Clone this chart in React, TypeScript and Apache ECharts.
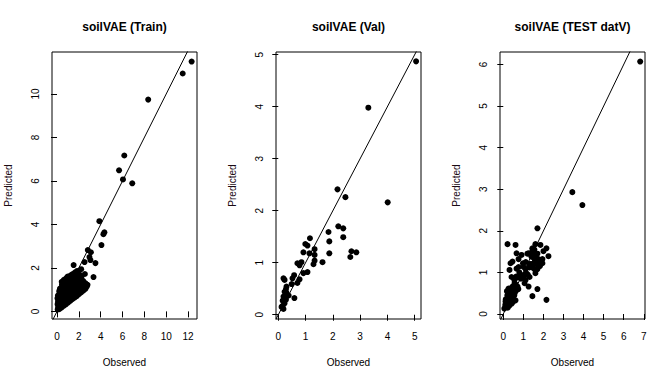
import React, { useEffect, useRef } from "react";
import * as echarts from "echarts";

// ---- Data ----
const trainPoints: number[][] = [
  [12.33, 11.49], [11.51, 10.94], [8.35, 9.74], [6.16, 7.17], [5.68, 6.49], [6.04, 6.07], [6.89, 5.89],
  [3.88, 4.15], [4.34, 3.64], [4.25, 3.55], [4.07, 3.05], [2.82, 2.82], [3.1, 2.72], [2.97, 2.5],
  [3.06, 2.36], [2.52, 2.27], [3.52, 2.22], [1.52, 2.13], [2.21, 1.94], [2.55, 1.72], [3.34, 1.58], [2.79, 1.22],
  [0.06, 0.09], [0.1, 0.2], [0.05, 0.33], [0.09, 0.46], [0.04, 0.6], [0.08, 0.73],
  [0.2, 0.1], [0.24, 0.24], [0.18, 0.38], [0.22, 0.52], [0.19, 0.66], [0.23, 0.8], [0.2, 0.93], [0.27, 1.05],
  [0.4, 0.17], [0.43, 0.32], [0.38, 0.47], [0.42, 0.62], [0.39, 0.77], [0.44, 0.92], [0.41, 1.07], [0.45, 1.22], [0.43, 1.36],
  [0.6, 0.25], [0.63, 0.4], [0.58, 0.55], [0.62, 0.7], [0.59, 0.85], [0.64, 1.0], [0.61, 1.15], [0.57, 1.3], [0.63, 1.45],
  [0.8, 0.32], [0.78, 0.47], [0.83, 0.62], [0.79, 0.78], [0.82, 0.93], [0.77, 1.08], [0.84, 1.23], [0.8, 1.38], [0.86, 1.53],
  [1.0, 0.4], [1.03, 0.56], [0.98, 0.71], [1.02, 0.86], [0.99, 1.01], [1.04, 1.16], [1.0, 1.31], [1.05, 1.46], [0.97, 1.6],
  [1.2, 0.48], [1.18, 0.64], [1.23, 0.79], [1.19, 0.94], [1.22, 1.09], [1.17, 1.24], [1.24, 1.39], [1.2, 1.54], [1.25, 1.66],
  [1.4, 0.56], [1.43, 0.7], [1.38, 0.86], [1.42, 1.0], [1.39, 1.15], [1.44, 1.3], [1.41, 1.45], [1.37, 1.6], [1.43, 1.72],
  [1.6, 0.63], [1.58, 0.79], [1.63, 0.94], [1.59, 1.08], [1.62, 1.23], [1.57, 1.38], [1.64, 1.53], [1.6, 1.68], [1.66, 1.8],
  [1.8, 0.7], [1.83, 0.86], [1.78, 1.0], [1.82, 1.15], [1.79, 1.3], [1.84, 1.45], [1.81, 1.6], [1.77, 1.75], [1.85, 1.86],
  [2.0, 0.79], [1.98, 0.95], [2.03, 1.1], [1.99, 1.25], [2.02, 1.4], [1.97, 1.55], [2.04, 1.7],
  [2.2, 0.87], [2.23, 1.02], [2.18, 1.17], [2.22, 1.32], [2.19, 1.47], [2.24, 1.6],
  [2.4, 0.95], [2.38, 1.1], [2.43, 1.25], [2.39, 1.4],
  [2.6, 1.04], [2.63, 1.18], [2.58, 1.3], [2.72, 1.14], [2.68, 1.24],
];

const valPoints: number[][] = [
  [5.05, 4.87], [3.3, 3.98], [2.17, 2.41], [2.46, 2.26], [4.01, 2.16], [2.2, 1.7], [2.38, 1.66], [1.84, 1.59],
  [2.38, 1.49], [1.87, 1.41], [1.16, 1.47], [0.99, 1.36], [1.07, 1.33], [1.33, 1.26], [0.92, 1.2], [1.14, 1.18],
  [1.87, 1.18], [2.68, 1.22], [2.86, 1.2], [2.64, 1.11], [1.33, 1.15], [1.33, 1.04], [1.29, 0.97], [1.62, 1.01],
  [0.85, 1.01], [0.7, 0.99], [0.78, 0.95], [1.07, 0.82], [0.92, 0.8], [0.78, 0.68], [0.58, 0.76], [0.52, 0.7],
  [0.7, 0.61], [0.49, 0.59], [0.19, 0.7], [0.23, 0.67], [0.3, 0.54], [0.28, 0.49], [0.23, 0.44], [0.3, 0.42],
  [0.38, 0.37], [0.19, 0.35], [0.59, 0.32], [0.28, 0.29], [0.16, 0.27], [0.23, 0.22], [0.16, 0.17], [0.12, 0.15],
  [0.19, 0.11], [0.27, 0.32],
];

const testPoints: number[][] = [
  [6.82, 6.07], [3.44, 2.93], [3.94, 2.62], [1.7, 2.06], [0.21, 1.68], [0.61, 1.66], [1.6, 1.68], [1.85, 1.66],
  [0.66, 1.46], [2.15, 1.58], [2.0, 1.51], [1.26, 1.46], [1.45, 1.51], [1.55, 1.49], [0.91, 1.42], [0.46, 1.26],
  [0.36, 1.22], [1.01, 1.13], [0.76, 1.13], [0.66, 1.09], [1.11, 1.08], [1.31, 1.2], [1.51, 1.22], [1.75, 1.32],
  [1.95, 1.32], [2.25, 1.39], [1.95, 1.22], [1.7, 1.08], [1.6, 0.98], [0.31, 1.06], [1.01, 0.89], [0.81, 0.89],
  [0.41, 0.89], [1.11, 0.82], [1.31, 0.89], [1.06, 0.74], [1.26, 0.66], [0.71, 0.66], [0.56, 0.74], [0.46, 0.66],
  [0.26, 0.61], [0.31, 0.54], [0.56, 0.5], [0.41, 0.42], [1.7, 0.6], [1.45, 0.43], [2.15, 0.34], [0.61, 0.33],
  [0.36, 0.33], [0.11, 0.3], [0.21, 0.26], [0.11, 0.18], [0.05, 0.13], [0.21, 0.38], [0.51, 0.6], [0.76, 1.32],
  [1.35, 1.45], [1.4, 1.38], [1.48, 1.42], [1.52, 1.35], [1.58, 1.28], [1.62, 1.4], [1.55, 1.55], [1.45, 1.58],
  [1.7, 1.45], [1.65, 1.2], [1.78, 1.25], [1.82, 1.15], [1.9, 1.28], [1.6, 1.05], [1.5, 1.1], [1.38, 1.2],
  [1.3, 1.12], [1.22, 0.95], [1.15, 0.98], [1.05, 0.95], [0.95, 0.92], [0.88, 0.85], [0.72, 0.88], [0.64, 0.9],
  [0.8, 1.0], [0.98, 1.22], [1.12, 1.25], [1.2, 1.45], [0.55, 0.82], [0.6, 0.72], [0.75, 0.6],
  [0.1, 0.22], [0.15, 0.3], [0.2, 0.45], [0.25, 0.5], [0.3, 0.4], [0.35, 0.48], [0.4, 0.55], [0.45, 0.35],
  [0.5, 0.3], [0.3, 0.2], [0.22, 0.15], [0.12, 0.35], [0.38, 0.62], [0.28, 0.58], [0.48, 0.65], [0.55, 0.45],
  [0.62, 0.55], [0.18, 0.55], [0.42, 0.25], [0.33, 0.3],
];

const panelTitles = ["soilVAE (Train)", "soilVAE (Val)", "soilVAE (TEST datV)"];
const trainXTicks = [0, 2, 4, 6, 8, 10, 12];
const trainYTicks = [0, 2, 4, 6, 8, 10];
const valXTicks = [0, 1, 2, 3, 4, 5];
const valYTicks = [0, 1, 2, 3, 4, 5];
const testXTicks = [0, 1, 2, 3, 4, 5, 6, 7];
const testYTicks = [0, 1, 2, 3, 4, 5, 6];

const FONT = "'Liberation Sans', Arial, Helvetica, sans-serif";

const panels = [
  { title: panelTitles[0], data: trainPoints, xTicks: trainXTicks, yTicks: trainYTicks, xr: [-0.46, 12.82], yr: [-0.35, 11.93], left: 52 },
  { title: panelTitles[1], data: valPoints, xTicks: valXTicks, yTicks: valYTicks, xr: [-0.084, 5.23], yr: [-0.082, 5.05], left: 276 },
  { title: panelTitles[2], data: testPoints, xTicks: testXTicks, yTicks: testYTicks, xr: [-0.164, 7.06], yr: [-0.12, 6.3], left: 500 },
];

const GRID_TOP = 52;
const GRID_W = 145;
const GRID_H = 267;

export default function App() {
  const ref = useRef<HTMLDivElement>(null);
  useEffect(() => {
    if (!ref.current) return;
    const chart = echarts.init(ref.current, null, { renderer: "svg" });
    const grids: any[] = [];
    const xAxes: any[] = [];
    const yAxes: any[] = [];
    const series: any[] = [];
    const graphics: any[] = [];
    panels.forEach((p, i) => {
      grids.push({
        left: p.left, top: GRID_TOP, width: GRID_W, height: GRID_H,
        show: true, borderColor: "#000", borderWidth: 1, backgroundColor: "transparent",
      });
      xAxes.push({
        type: "value", gridIndex: i, min: p.xr[0], max: p.xr[1],
        splitLine: { show: false },
        axisLine: { show: false },
        axisTick: { show: true, length: 6, lineStyle: { color: "#000", width: 1 }, customValues: p.xTicks },
        axisLabel: { customValues: p.xTicks, color: "#000", fontSize: 10, margin: 12, fontFamily: FONT },
        name: "Observed", nameLocation: "middle", nameGap: 38,
        nameTextStyle: { color: "#000", fontSize: 10, fontFamily: FONT },
      });
      yAxes.push({
        type: "value", gridIndex: i, min: p.yr[0], max: p.yr[1],
        splitLine: { show: false },
        axisLine: { show: false },
        axisTick: { show: true, length: 6, lineStyle: { color: "#000", width: 1 }, customValues: p.yTicks },
        axisLabel: { customValues: p.yTicks, color: "#000", fontSize: 10, margin: 12, rotate: 90, fontFamily: FONT },
        name: "Predicted", nameLocation: "middle", nameGap: 39, nameRotate: 90,
        nameTextStyle: { color: "#1a0a14", fontSize: 10, fontFamily: FONT },
      });
      const lo = Math.min(p.xr[0], p.yr[0]) - 1;
      const hi = Math.max(p.xr[1], p.yr[1]) + 1;
      series.push({
        type: "line", xAxisIndex: i, yAxisIndex: i, data: [[lo, lo], [hi, hi]],
        showSymbol: false, symbol: "none", clip: true, silent: true,
        lineStyle: { color: "#000", width: 1, opacity: 1 },
      });
      series.push({
        type: "scatter", xAxisIndex: i, yAxisIndex: i, data: p.data,
        symbol: "circle", symbolSize: 6, itemStyle: { color: "#000", opacity: 1 }, silent: true,
      });
      graphics.push({
        type: "text", x: p.left + GRID_W / 2, y: 27,
        style: { text: p.title, align: "center", verticalAlign: "middle", fontSize: 12, fontWeight: "bold", fontFamily: FONT, fill: "#000" },
      });
    });
    chart.setOption({
      animation: false,
      backgroundColor: "#fff",
      grid: grids,
      xAxis: xAxes,
      yAxis: yAxes,
      series,
      graphic: graphics,
    });
    return () => chart.dispose();
  }, []);
  return <div ref={ref} style={{ position: "fixed", left: 0, top: 0, width: 672, height: 384 }} />;
}
